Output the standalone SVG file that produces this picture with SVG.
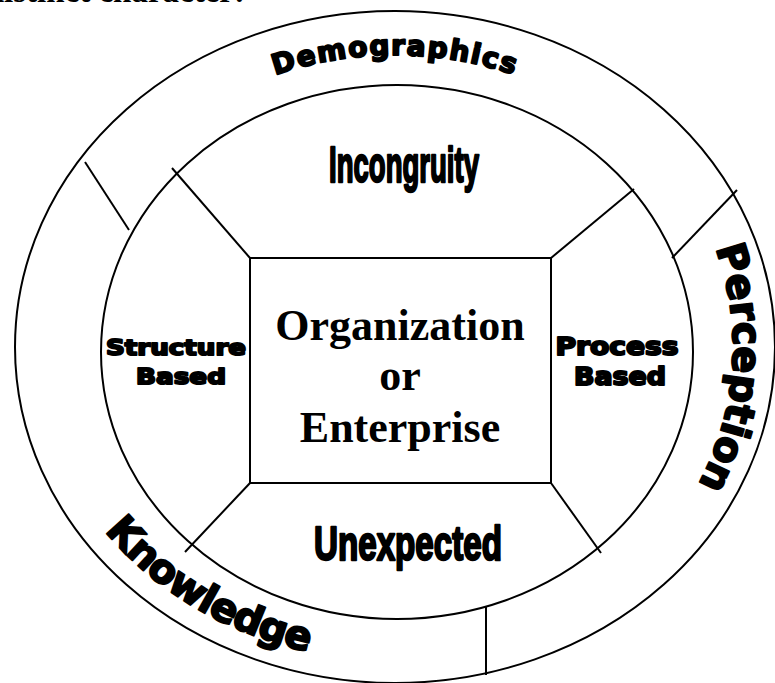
<svg xmlns="http://www.w3.org/2000/svg" width="775" height="683" viewBox="0 0 775 683">
<style>
.ring{fill:none;stroke:#000;stroke-width:2}
.conn line{stroke:#000;stroke-width:2}
.box{fill:#fff;stroke:#000;stroke-width:2}
.heavy{font-family:"DejaVu Sans","Liberation Sans",sans-serif;font-weight:bold;fill:#000;stroke:#000;stroke-width:2;stroke-linejoin:round}
.cond{font-family:"Liberation Sans Narrow","Liberation Sans",sans-serif;font-weight:bold;fill:#000;stroke:#000;stroke-width:2.4;stroke-linejoin:round}
.serif{font-family:"Liberation Serif","Times New Roman",serif;font-weight:bold;fill:#000;text-anchor:middle}
</style>
<defs>
<path id="pDemo" d="M 65,347 A 330 292 0 0 1 725,347"/>
<path id="pPer" d="M 395,36 A 338 311 0 0 1 733,347 A 338 311 0 0 1 395,658"/>
<path id="pKno" d="M 395,33 A 358 314 0 0 0 37,347 A 358 314 0 0 0 395,661"/>
</defs>
<rect width="775" height="683" fill="#fff"/>
<text x="245" y="1.5" text-anchor="end" font-family="Liberation Serif, serif" font-weight="bold" font-size="33">distinct character:</text>

<g id="outer-ring">
<ellipse class="ring" cx="395" cy="347" rx="380" ry="336"/>
</g>
<g id="inner-ring">
<ellipse class="ring" cx="397" cy="352" rx="296" ry="267"/>
</g>

<g id="connectors" class="conn">
<line x1="172" y1="168" x2="250" y2="258"/>
<line x1="634" y1="189" x2="551" y2="258"/>
<line x1="185" y1="552" x2="250" y2="483"/>
<line x1="601" y1="553" x2="551" y2="483"/>
<line x1="85" y1="162" x2="129" y2="230"/>
<line x1="737" y1="190" x2="672" y2="258"/>
<line x1="486" y1="607" x2="486" y2="675"/>
</g>

<g id="center">
<rect class="box" x="250" y="258" width="301" height="225"/>
<text class="serif" x="400" y="340" font-size="44">Organization</text>
<text class="serif" x="400" y="390" font-size="44">or</text>
<text class="serif" x="400" y="442" font-size="44">Enterprise</text>
</g>

<g id="incongruity">
<text class="cond" x="404" y="182" font-size="50" text-anchor="middle" textLength="150" lengthAdjust="spacingAndGlyphs">Incongruity</text>
</g>
<g id="unexpected">
<text class="cond" x="408" y="560" font-size="48" text-anchor="middle" textLength="188" lengthAdjust="spacingAndGlyphs">Unexpected</text>
</g>
<g id="structure-based">
<text class="heavy" x="176" y="355" font-size="22" text-anchor="middle" textLength="140" lengthAdjust="spacingAndGlyphs">Structure</text>
<text class="heavy" x="181" y="384" font-size="22" text-anchor="middle" textLength="90" lengthAdjust="spacingAndGlyphs">Based</text>
</g>
<g id="process-based">
<text class="heavy" x="617" y="355" font-size="24" text-anchor="middle" textLength="123" lengthAdjust="spacingAndGlyphs">Process</text>
<text class="heavy" x="620" y="385" font-size="24" text-anchor="middle" textLength="92" lengthAdjust="spacingAndGlyphs">Based</text>
</g>

<g id="demographics">
<text class="heavy" font-size="28" letter-spacing="1.5" text-anchor="middle"><textPath href="#pDemo" startOffset="50%">Demographics</textPath></text>
</g>
<g id="perception">
<text class="heavy" font-size="40" text-anchor="middle"><textPath href="#pPer" startOffset="531">Perception</textPath></text>
</g>
<g id="knowledge">
<text class="heavy" font-size="40" letter-spacing="-1" text-anchor="middle"><textPath href="#pKno" startOffset="848">Knowledge</textPath></text>
</g>
</svg>
